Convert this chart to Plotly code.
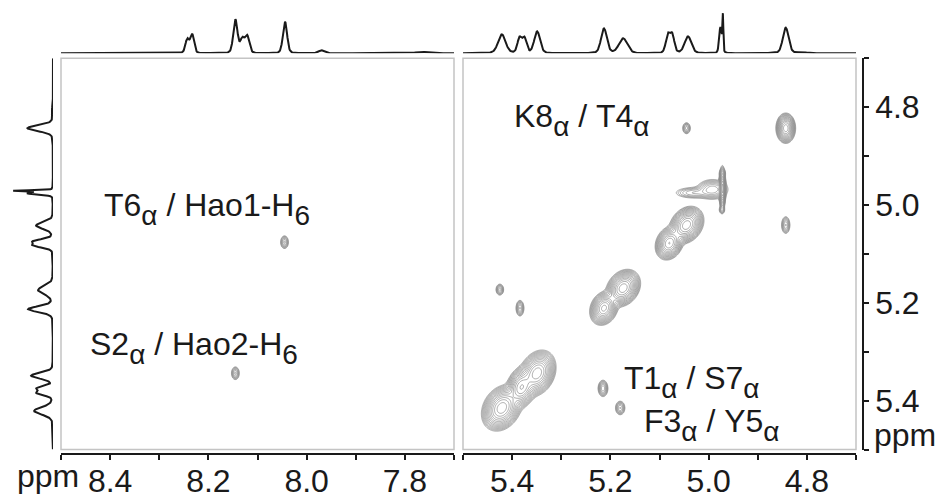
import numpy as np
import plotly.graph_objects as go

# ---- 1D spectrum: aromatic region (F2, 8.5-7.7 ppm) ----
arom_ppm = [8.243, 8.233, 8.145, 8.131, 8.121, 8.044, 7.970, 7.765]
arom_height = [14, 19, 34, 14, 17, 32, 3, 1.5]
arom_hwhm = [0.0045, 0.0045, 0.005, 0.005, 0.005, 0.005, 0.007, 0.015]

# ---- 1D spectrum: alpha region (5.5-4.7 ppm) ----
alpha_ppm = [5.421, 5.385, 5.375, 5.349, 5.213, 5.174, 5.083, 5.074,
             5.042, 4.976, 4.971, 4.843, 4.808]
alpha_height = [19, 15, 15, 22, 25, 15, 18, 18, 17, 26, 36, 26, 1]
alpha_hwhm = [0.009, 0.005, 0.005, 0.007, 0.007, 0.010, 0.005, 0.005,
              0.008, 0.003, 0.0012, 0.007, 0.01]

# ---- 2D cross peaks, amide/aromatic vs alpha ----
amide_x = [8.045, 8.145]
amide_y = [5.076, 5.344]
amide_amp = [0.09, 0.09]
amide_sx = [0.004, 0.004]
amide_sy = [0.0065, 0.0065]

# ---- 2D peaks, alpha vs alpha (x, y, amp, sx, sy, rho) ----
ha_x = [4.843, 4.972, 4.992, 5.030, 4.972, 4.973, 5.045, 5.080, 5.174, 5.213,
        5.349, 5.381, 5.421, 5.045, 4.843, 5.425, 5.384, 5.215, 5.180]
ha_y = [4.843, 4.966, 4.968, 4.975, 4.935, 5.010, 5.041, 5.078, 5.170, 5.211,
        5.344, 5.373, 5.415, 4.843, 5.041, 5.173, 5.211, 5.375, 5.415]
ha_amp = [1.0, 0.9, 0.15, 0.06, 0.08, 0.06, 1.0, 0.8, 1.0, 0.9,
          1.0, 0.8, 1.0, 0.1, 0.12, 0.1, 0.12, 0.15, 0.12]
ha_sx = [0.0068, 0.0025, 0.014, 0.02, 0.003, 0.003, 0.012, 0.010, 0.012, 0.010,
         0.013, 0.011, 0.014, 0.0038, 0.004, 0.0038, 0.0038, 0.0045, 0.0045]
ha_sy = [0.0105, 0.016, 0.009, 0.006, 0.004, 0.004, 0.013, 0.012, 0.013, 0.012,
         0.016, 0.015, 0.016, 0.0055, 0.008, 0.0055, 0.0075, 0.0075, 0.0065]
ha_rho = [0.0, 0.0, 0.0, 0.0, 0.0, 0.0, 0.25, 0.2, 0.25, 0.2,
          0.25, 0.2, 0.25, 0.0, 0.0, 0.0, 0.0, 0.0, 0.0]

# ---- axis ticks ----
arom_ticks = [8.5, 8.4, 8.3, 8.2, 8.1, 8.0, 7.9, 7.8, 7.7]
arom_labels = ["", "8.4", "", "8.2", "", "8.0", "", "7.8", ""]
alpha_ticks = [5.5, 5.4, 5.3, 5.2, 5.1, 5.0, 4.9, 4.8, 4.7]
alpha_labels = ["", "5.4", "", "5.2", "", "5.0", "", "4.8", ""]

# ---- assignment labels ----
SUB = "<span style='font-size:28px;baseline-shift:-9px'>{}</span>"
lab_text = ["K8" + SUB.format("α") + " / T4" + SUB.format("α"),
            "T1" + SUB.format("α") + " / S7" + SUB.format("α"),
            "F3" + SUB.format("α") + " / Y5" + SUB.format("α"),
            "T6" + SUB.format("α") + " / Hao1-H" + SUB.format("6"),
            "S2" + SUB.format("α") + " / Hao2-H" + SUB.format("6")]
lab_x = [5.40, 5.176, 5.136, 8.417, 8.445]
lab_y = [4.827, 5.361, 5.450, 5.009, 5.292]
lab_panel = ["x2", "x2", "x2", "x", "x"]

W, H = 942, 499
FONT = "Liberation Sans, Arial, sans-serif"
INK = "#1a1a1a"


def fx(p):
    return p / W


def fy(p):
    return 1 - p / H


def spectrum_1d(grid, centers, heights, widths):
    s = np.zeros_like(grid)
    for c, h, w in zip(centers, heights, widths):
        d = (grid - c) / w
        s += h * (0.75 * np.exp(-np.log(2) * d * d) + 0.25 / (1 + d * d))
    return s


def spectrum_2d(gx, gy, xs, ys, amps, sxs, sys_, rhos):
    X, Y = np.meshgrid(gx, gy)
    z = np.zeros_like(X)
    for x0, y0, a, sx, sy, r in zip(xs, ys, amps, sxs, sys_, rhos):
        u = (X - x0) / sx
        v = (Y - y0) / sy
        z += a * np.exp(-0.5 / (1 - r * r) * (u * u - 2 * r * u * v + v * v))
    return z


arom_grid = np.linspace(8.5, 7.7, 801)
alpha_grid = np.linspace(5.5, 4.7, 801)
arom_1d = spectrum_1d(arom_grid, arom_ppm, arom_height, arom_hwhm)
alpha_1d = spectrum_1d(alpha_grid, alpha_ppm, alpha_height, alpha_hwhm)

gx_l = np.linspace(8.5, 7.7, 401)
gx_r = np.linspace(5.5, 4.7, 401)
gy = np.linspace(4.7, 5.5, 401)
z_left = spectrum_2d(gx_l, gy, amide_x, amide_y, amide_amp, amide_sx, amide_sy,
                     [0.0] * len(amide_x))
z_right = spectrum_2d(gx_r, gy, ha_x, ha_y, ha_amp, ha_sx, ha_sy, ha_rho)

# contour levels evenly spaced in log intensity
lvl = dict(coloring="lines", start=np.log10(0.012), end=np.log10(1.6),
           size=np.log10(1.38), showlabels=False)
gray = [[0, "#8a8a8a"], [1, "#8a8a8a"]]

fig = go.Figure()

for gxv, zv, xa in [(gx_l, z_left, "x"), (gx_r, z_right, "x2")]:
    fig.add_trace(go.Contour(x=gxv, y=gy, z=np.log10(zv + 1e-9), xaxis=xa, yaxis="y",
                             contours=lvl, colorscale=gray, showscale=False,
                             line=dict(width=0.7), hoverinfo="skip"))

# top projections
fig.add_trace(go.Scatter(x=arom_grid, y=arom_1d, xaxis="x3", yaxis="y3", mode="lines",
                         line=dict(color=INK, width=2), hoverinfo="skip"))
fig.add_trace(go.Scatter(x=alpha_grid, y=alpha_1d, xaxis="x4", yaxis="y3", mode="lines",
                         line=dict(color=INK, width=2), hoverinfo="skip"))
# side projection
fig.add_trace(go.Scatter(x=alpha_1d, y=alpha_grid, xaxis="x5", yaxis="y", mode="lines",
                         line=dict(color=INK, width=2), hoverinfo="skip"))
# carriers for the scale axes
fig.add_trace(go.Scatter(x=[], y=[], xaxis="x6", yaxis="y"))
fig.add_trace(go.Scatter(x=[], y=[], xaxis="x7", yaxis="y"))
fig.add_trace(go.Scatter(x=[], y=[], xaxis="x", yaxis="y4"))

dom_l = [fx(61), fx(454)]
dom_r = [fx(463), fx(856)]
dom_2d = [fy(455), fy(59)]
dom_top = [fy(54), fy(4)]

hidden = dict(showgrid=False, zeroline=False, showline=False, showticklabels=False,
              ticks="")
scale = dict(showgrid=False, zeroline=False, showline=True, linecolor=INK, linewidth=1.5,
             ticks="outside", ticklen=5, tickwidth=1.5, tickcolor=INK,
             tickfont=dict(family=FONT, size=32, color=INK), tickmode="array")

fig.update_layout(
    width=W, height=H, margin=dict(l=0, r=0, t=0, b=0),
    paper_bgcolor="white", plot_bgcolor="rgba(0,0,0,0)", showlegend=False,
    xaxis=dict(domain=dom_l, range=[8.5, 7.7], anchor="y", **hidden),
    xaxis2=dict(domain=dom_r, range=[5.5, 4.7], anchor="y", **hidden),
    yaxis=dict(domain=dom_2d, range=[5.5, 4.7], anchor="x", **hidden),
    xaxis3=dict(domain=dom_l, range=[8.5, 7.7], anchor="y3", **hidden),
    xaxis4=dict(domain=dom_r, range=[5.5, 4.7], anchor="y3", **hidden),
    yaxis3=dict(domain=dom_top, range=[0, 50], anchor="x3", **hidden),
    xaxis5=dict(domain=[fx(4), fx(53)], range=[50, 0], anchor="y", **hidden),
    xaxis6=dict(domain=dom_l, range=[8.5, 7.7], anchor="free", position=fy(459.5),
                overlaying="x", side="bottom", tickvals=arom_ticks, ticktext=arom_labels,
                ticklabelstandoff=-6, **scale),
    xaxis7=dict(domain=dom_r, range=[5.5, 4.7], anchor="free", position=fy(459.5),
                overlaying="x2", side="bottom", tickvals=alpha_ticks, ticktext=alpha_labels,
                ticklabelstandoff=-6, **scale),
    yaxis4=dict(domain=dom_2d, range=[5.5, 4.7], anchor="free", position=fx(863),
                overlaying="y", side="right", tickvals=alpha_ticks, ticktext=alpha_labels,
                **scale),
)

# light frames around the 2D panels
for xa in ["x", "x2"]:
    fig.add_shape(type="rect", xref=f"{xa} domain", yref="y domain", x0=0, x1=1, y0=0, y1=1,
                  line=dict(color="#c4c4c4", width=1.5), layer="below")

for t, x, y, xa in zip(lab_text, lab_x, lab_y, lab_panel):
    fig.add_annotation(text=t, x=x, y=y, xref=xa, yref="y", xanchor="left", yanchor="middle",
                       showarrow=False, font=dict(family=FONT, size=32, color=INK))

# unit labels
fig.add_annotation(text="ppm", x=fx(15), y=fy(482), xref="paper", yref="paper",
                   xanchor="left", yanchor="middle", showarrow=False,
                   font=dict(family=FONT, size=32, color=INK))
fig.add_annotation(text="ppm", x=fx(872), y=fy(440), xref="paper", yref="paper",
                   xanchor="left", yanchor="middle", showarrow=False,
                   font=dict(family=FONT, size=32, color=INK))

fig.write_html("out.html")
